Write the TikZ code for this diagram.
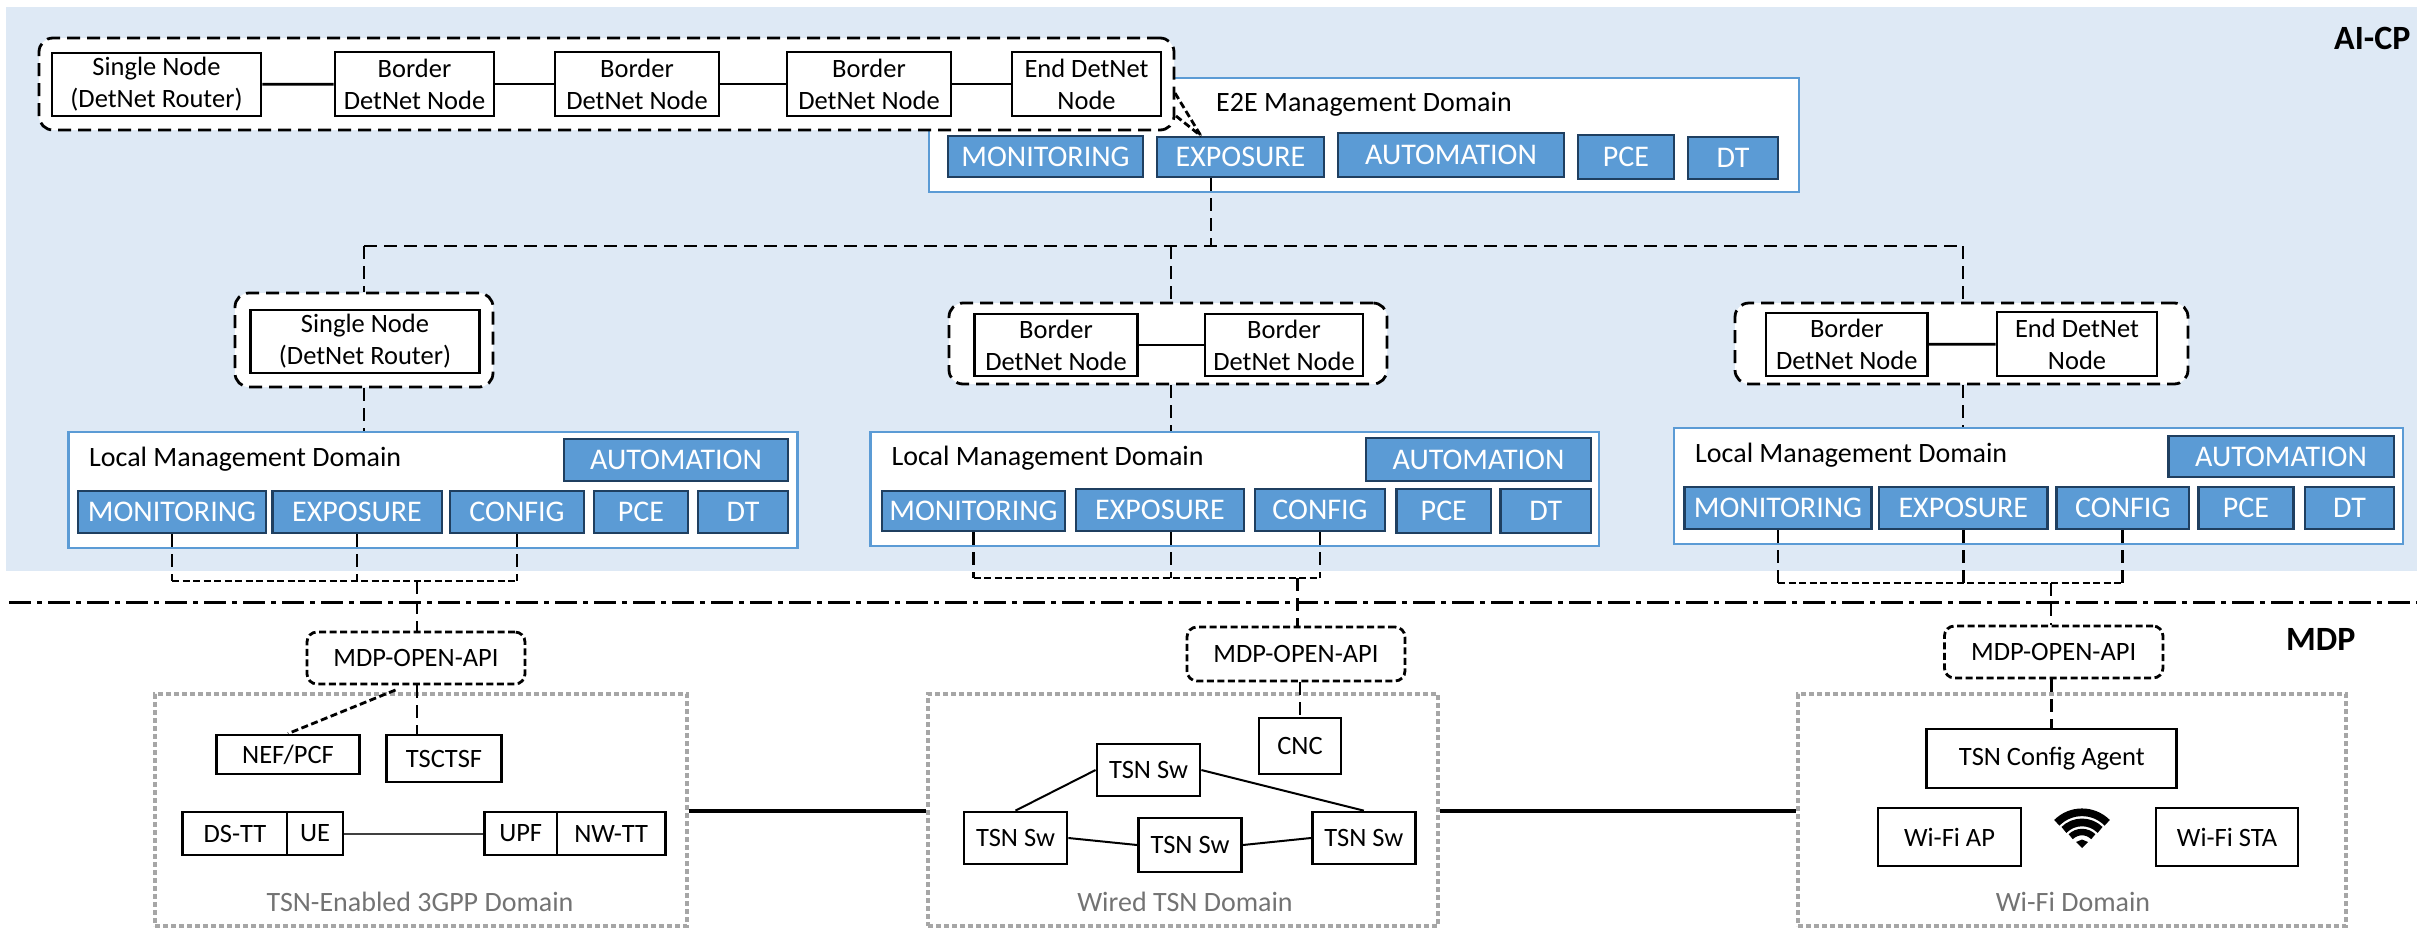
\documentclass[tikz,border=0pt]{standalone}
\usepackage{fontspec}
\setmainfont{Carlito}
\usetikzlibrary{shapes,arrows,backgrounds,positioning}
\definecolor{plane_b}{HTML}{DEE9F5}
\definecolor{fn_fill}{HTML}{5B9BD5}
\definecolor{fn_edge}{HTML}{1F3F60}
\tikzset{
  dim_wh/.style 2 args = {minimum width=#1pt, minimum height=#2pt},
  treenode/.style = {align=center, inner sep=0pt, text centered,
    font=\fontsize{26.5}{32}\selectfont},
  det_n/.style = {treenode, rectangle, black, draw=black, fill=white,
    line width=2.8pt},% detnet box, black edge
  fn_b/.style = {treenode, rectangle, white, draw=fn_edge, fill=fn_fill,
    line width=2.5pt, font=\fontsize{30}{35}\selectfont},% blue function box
  mgmt_d/.style = {rectangle, draw=fn_fill, fill=white, inner sep=0pt,
    line width=2.6pt},% management domain
  title_t/.style = {anchor=west, inner sep=0pt, black,
    font=\fontsize{28}{34}\selectfont},
  dash_l/.style = {black, line width=2.8pt, dash pattern=on 13pt off 7pt},
  dash_s/.style = {black, line width=2.8pt, dash pattern=on 7pt off 3.5pt},
  grp_d/.style = {rectangle, rounded corners=14pt, draw=black, dash_l, fill=white,
    inner sep=0pt},% dashed group
  api_d/.style = {treenode, rectangle, rounded corners=10pt, draw=black, dash_s,
    fill=white},% open api
  dom_g/.style = {rectangle, draw=black!35, line width=4pt,
    dash pattern=on 5pt off 3pt, inner sep=0pt},% dotted domain
  dom_t/.style = {inner sep=0pt, text=black!55,
    font=\fontsize{28}{34}\selectfont},
  plane_t/.style = {anchor=west, inner sep=0pt,
    font=\fontsize{34}{40}\selectfont\bfseries},
  link_t/.style = {black, line width=2.8pt},
  link_n/.style = {black!75, line width=2pt},
  trunk_t/.style = {black, line width=4.5pt},
  cut_t/.style = {black, line width=3pt,
    dash pattern=on 22pt off 6pt on 5pt off 6pt}
}
\begin{document}
\begin{tikzpicture}[x=1pt,y=-1pt]
        \useasboundingbox (0,0) rectangle (2417,927);
        \fill[plane_b] (6,7) rectangle (2417,571);
        \coordinate (cut_l) at (9,602);
        \coordinate (cut_r) at (2417,602);
        \draw[cut_t] (cut_l) -- (cut_r);
        \node[plane_t] (aicp) at (2334,38) {AI-CP};
        \node[plane_t] (mdp) at (2286,639) {MDP};

        % e2e domain
        \node[mgmt_d, dim_wh={870}{114}] (E) at (1364,135) {};
        \node[title_t] (E_t) at (1216,104) {E2E Management Domain};
        \node[fn_b, dim_wh={195}{41}] (E_mon) at (1045.5,156.5) {MONITORING};
        \node[fn_b, dim_wh={167}{40}] (E_exp) at (1240.5,157) {EXPOSURE};
        \node[fn_b, dim_wh={226}{44}] (E_aut) at (1451,155) {AUTOMATION};
        \node[fn_b, dim_wh={96}{44}] (E_pce) at (1626,157) {PCE};
        \node[fn_b, dim_wh={90}{42}] (E_dt) at (1733,158) {DT};

        % end to end path
        \node[grp_d, dim_wh={1135}{92}] (G0) at (606.5,84) {};
        \coordinate (tip) at (1201,136);
        \coordinate (tip_a) at (1175,93);
        \coordinate (tip_b) at (1176,116);
        \draw[dash_s] (tip_a) -- (tip);
        \draw[dash_s] (tip_b) -- (tip);
        \node[det_n, dim_wh={209}{63}] (A1) at (156.5,84.5) {Single Node\\(DetNet Router)};
        \node[det_n, dim_wh={159}{64}] (A2) at (414.5,84) {Border\\DetNet Node};
        \node[det_n, dim_wh={164}{64}] (A3) at (637,84) {Border\\DetNet Node};
        \node[det_n, dim_wh={164}{64}] (A4) at (869,84) {Border\\DetNet Node};
        \node[det_n, dim_wh={149}{64}] (A5) at (1086.5,84) {End DetNet\\Node};
        \draw[link_t] (A1) -- (A2);
        \draw[link_t] (A2) -- (A3);
        \draw[link_t] (A3) -- (A4);
        \draw[link_t] (A4) -- (A5);

        % local domain 1
        \node[grp_d, dim_wh={258}{94}] (G1) at (364,340) {};
        \node[det_n, dim_wh={229.5}{63}] (B1) at (365,341.5) {Single Node\\(DetNet Router)};
        \node[mgmt_d, dim_wh={729}{116}] (L1) at (433,490) {};
        \node[title_t] (L1_t) at (89,459) {Local Management Domain};
        \node[fn_b, dim_wh={224}{42}] (L1_aut) at (676,460) {AUTOMATION};
        \node[fn_b, dim_wh={188}{42}] (L1_mon) at (172,512) {MONITORING};
        \node[fn_b, dim_wh={169.5}{42}] (L1_exp) at (357,512) {EXPOSURE};
        \node[fn_b, dim_wh={134}{42}] (L1_cfg) at (517,512) {CONFIG};
        \node[fn_b, dim_wh={94}{42}] (L1_pce) at (641,512) {PCE};
        \node[fn_b, dim_wh={90}{42}] (L1_dt) at (743,512) {DT};

        % local domain 2
        \node[grp_d, dim_wh={438}{81}] (G2) at (1168,343.5) {};
        \node[det_n, dim_wh={162.5}{62}] (C1) at (1056,345) {Border\\DetNet Node};
        \node[det_n, dim_wh={158}{62}] (C2) at (1284,345) {Border\\DetNet Node};
        \draw[link_t] (C1) -- (C2);
        \node[mgmt_d, dim_wh={728.5}{114}] (L2) at (1234.8,489) {};
        \node[title_t] (L2_t) at (891.4,458) {Local Management Domain};
        \node[fn_b, dim_wh={225}{43}] (L2_aut) at (1478.5,459.5) {AUTOMATION};
        \node[fn_b, dim_wh={183}{40}] (L2_mon) at (973.5,511) {MONITORING};
        \node[fn_b, dim_wh={168}{42}] (L2_exp) at (1160,510) {EXPOSURE};
        \node[fn_b, dim_wh={130}{42}] (L2_cfg) at (1320,510) {CONFIG};
        \node[fn_b, dim_wh={94.5}{44}] (L2_pce) at (1443.8,511) {PCE};
        \node[fn_b, dim_wh={90.4}{44}] (L2_dt) at (1545.8,511) {DT};

        % local domain 3
        \node[grp_d, dim_wh={453}{81}] (G3) at (1961.5,343.5) {};
        \node[det_n, dim_wh={161.6}{63}] (D1) at (1846.8,344.5) {Border\\DetNet Node};
        \node[det_n, dim_wh={160}{64}] (D2) at (2077,344) {End DetNet\\Node};
        \draw[link_t] (D1) -- (D2);
        \node[mgmt_d, dim_wh={729}{116}] (L3) at (2038.5,486) {};
        \node[title_t] (L3_t) at (1695,455) {Local Management Domain};
        \node[fn_b, dim_wh={225.5}{41}] (L3_aut) at (2281,456.5) {AUTOMATION};
        \node[fn_b, dim_wh={187}{42}] (L3_mon) at (1778,508) {MONITORING};
        \node[fn_b, dim_wh={168.6}{42}] (L3_exp) at (1963.3,508) {EXPOSURE};
        \node[fn_b, dim_wh={132.3}{42}] (L3_cfg) at (2122.8,508) {CONFIG};
        \node[fn_b, dim_wh={95}{42}] (L3_pce) at (2246,508) {PCE};
        \node[fn_b, dim_wh={89}{42}] (L3_dt) at (2349.5,508) {DT};

        % tree of dashed links
        \coordinate (hub) at (1211,246);
        \coordinate (T1) at (364,246);
        \coordinate (T2) at (1171,246);
        \coordinate (T3) at (1963,246);
        \draw[dash_l] (hub |- E_exp.south) -- (hub);
        \draw[dash_l] (T1) -- (T3);
        \draw[dash_l] (T1) -- (T1 |- G1.north);
        \draw[dash_l] (T2) -- (T2 |- G2.north);
        \draw[dash_l] (T3) -- (T3 |- G3.north);
        \draw[dash_l] (T1 |- G1.south) -- (T1 |- L1.north);
        \draw[dash_l] (T2 |- G2.south) -- (T2 |- L2.north);
        \draw[dash_l] (T3 |- G3.south) -- (T3 |- L3.north);

        % api boxes
        \node[api_d, dim_wh={218}{52}] (api1) at (416,658) {MDP-OPEN-API};
        \node[api_d, dim_wh={218}{54}] (api2) at (1296,654) {MDP-OPEN-API};
        \node[api_d, dim_wh={218.6}{52}] (api3) at (2053.7,652) {MDP-OPEN-API};

        \coordinate (bus1) at (417,581);
        \coordinate (bus2) at (1297.6,578);
        \coordinate (bus3) at (2051,583);
        \draw[dash_l] (L1_mon.south) -- (L1_mon.south |- bus1);
        \draw[dash_l] (L1_exp.south) -- (L1_exp.south |- bus1);
        \draw[dash_l] (L1_cfg.south) -- (L1_cfg.south |- bus1);
        \draw[dash_s] (L1_mon.south |- bus1) -- (L1_cfg.south |- bus1);
        \draw[dash_l] (bus1) -- (bus1 |- api1.north);
        \draw[dash_l] (L2_mon.south) -- (L2_mon.south |- bus2);
        \draw[dash_l] (T2 |- L2_exp.south) -- (T2 |- bus2);
        \draw[dash_l] (L2_cfg.south) -- (L2_cfg.south |- bus2);
        \draw[dash_s] (L2_mon.south |- bus2) -- (L2_cfg.south |- bus2);
        \draw[dash_l] (bus2) -- (bus2 |- api2.north);
        \draw[dash_l] (L3_mon.south) -- (L3_mon.south |- bus3);
        \draw[dash_l] (L3_exp.south) -- (L3_exp.south |- bus3);
        \draw[dash_l] (L3_cfg.south) -- (L3_cfg.south |- bus3);
        \draw[dash_s] (L3_mon.south |- bus3) -- (L3_cfg.south |- bus3);
        \draw[dash_l] (bus3) -- (bus3 |- api3.north);

        % 3gpp domain
        \node[dom_g, dim_wh={532}{232}] (dom1) at (421,810) {};
        \node[dom_t] (dom1_t) at (420,902) {TSN-Enabled 3GPP Domain};
        \node[det_n, dim_wh={143}{39}] (nef) at (288,754.5) {NEF/PCF};
        \node[det_n, dim_wh={115}{47}] (tsc) at (444,758.5) {TSCTSF};
        \node[det_n, dim_wh={104.5}{43}] (dstt) at (235,833.5) {DS-TT};
        \node[det_n, dim_wh={56}{43}] (ue) at (315,833.5) {UE};
        \node[det_n, dim_wh={72.6}{43}] (upf) at (520.7,833.5) {UPF};
        \node[det_n, dim_wh={108.4}{43}] (nwtt) at (611.2,833.5) {NW-TT};
        \draw[link_n] (ue) -- (upf);
        \coordinate (api1_s) at (395.5,690);
        \draw[dash_s] (api1_s) -- (nef.north);
        \draw[dash_l] (bus1 |- api1.south) -- (bus1 |- tsc.north);

        % wired domain
        \node[dom_g, dim_wh={510}{232}] (dom2) at (1183,810) {};
        \node[dom_t] (dom2_t) at (1185,902) {Wired TSN Domain};
        \node[det_n, dim_wh={82}{56}] (cnc) at (1300,746) {CNC};
        \node[det_n, dim_wh={103}{52}] (sw1) at (1148.5,770) {TSN Sw};
        \node[det_n, dim_wh={103}{52}] (sw2) at (1015.5,838) {TSN Sw};
        \node[det_n, dim_wh={103}{54}] (sw3) at (1190,845) {TSN Sw};
        \node[det_n, dim_wh={103}{52}] (sw4) at (1363.8,838) {TSN Sw};
        \draw[link_n, black] (sw1.west) -- (sw2.north);
        \draw[link_n, black] (sw1.east) -- (sw4.north);
        \draw[link_n, black] (sw2.east) -- (sw3.west);
        \draw[link_n, black] (sw3.east) -- (sw4.west);
        \draw[dash_l] (cnc.north |- api2.south) -- (cnc.north);

        % wifi domain
        \node[dom_g, dim_wh={548}{232}] (dom3) at (2072,810) {};
        \node[dom_t] (dom3_t) at (2073,902) {Wi-Fi Domain};
        \node[det_n, dim_wh={250}{59}] (agent) at (2051.8,758.5) {TSN Config Agent};
        \node[det_n, dim_wh={143}{58}] (ap) at (1949.5,837) {Wi-Fi AP};
        \node[det_n, dim_wh={142}{58}] (sta) at (2227,837) {Wi-Fi STA};
        \draw[dash_l] (agent.north |- api3.south) -- (agent.north);
        \fill (2082,848) -- (2076,842) -- (2082,839.5) -- (2088,842) -- cycle;
        \draw[line width=6.5pt] (2070.7,836.7) .. controls (2077,830.5) and (2087,830.5) .. (2093.3,836.7);
        \draw[line width=7.7pt] (2063.9,829.9) .. controls (2074,819.9) and (2090,819.9) .. (2100.1,829.9);
        \draw[line width=7.7pt] (2056.8,822.8) .. controls (2070.7,808.8) and (2093.3,808.8) .. (2107.2,822.8);

        \coordinate (tl) at (0,811);
        \draw[trunk_t] (dom1.east |- tl) -- (dom2.west |- tl);
        \draw[trunk_t] (dom2.east |- tl) -- (dom3.west |- tl);
        \end{tikzpicture}
\end{document}
